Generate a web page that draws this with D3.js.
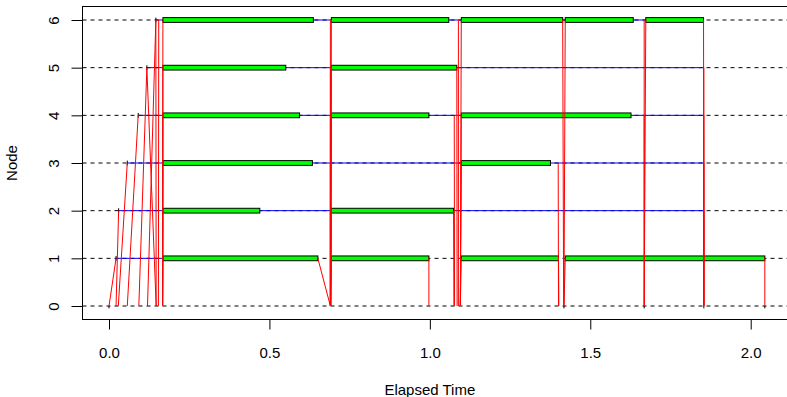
<!DOCTYPE html>
<html>
<head>
<meta charset="utf-8">
<script src="https://cdn.jsdelivr.net/npm/d3@7"></script>
<style>
  html, body { margin: 0; padding: 0; background: #fff; }
  svg { display: block; font-family: "Liberation Sans", Arial, sans-serif; }
</style>
</head>
<body>
<div id="chart"></div>
<script>
// Axis ticks
const xTicks = [0, 0.5, 1, 1.5, 2];
const nodeTicks = [0, 1, 2, 3, 4, 5, 6];

// Idle (blue) span per worker node: start of first receive, end of idle line
const blueStart = [0.022, 0.030, 0.057, 0.091, 0.118, 0.146];
const blueEnd = [0.168, 1.854, 1.854, 1.854, 1.854, 1.854];

// Execution intervals per node [start, end] (green bars)
const execNode1 = [[0.168, 0.651], [0.693, 0.997], [1.098, 1.401], [1.422, 2.044]];
const execNode2 = [[0.168, 0.470], [0.693, 1.074]];
const execNode3 = [[0.168, 0.634], [1.098, 1.376]];
const execNode4 = [[0.168, 0.594], [0.693, 0.997], [1.098, 1.627]];
const execNode5 = [[0.168, 0.551], [0.693, 1.084]];
const execNode6 = [[0.168, 0.637], [0.693, 1.059], [1.098, 1.414], [1.422, 1.634], [1.673, 1.853]];

// Communication segments [t0, node0, t1, node1] (red)
const commSegs = [
    [0.000, 0, 0.022, 1], [0.022, 0, 0.030, 2], [0.029, 0, 0.057, 3],
    [0.057, 0, 0.091, 4], [0.093, 0, 0.118, 5], [0.120, 0, 0.146, 6],
    [0.146, 6, 0.147, 0], [0.118, 5, 0.147, 0], [0.154, 0, 0.155, 6],
    [0.167, 0, 0.168, 1], [0.167, 0, 0.168, 2], [0.167, 0, 0.168, 3],
    [0.167, 0, 0.168, 4], [0.167, 0, 0.168, 5], [0.167, 0, 0.168, 6],
    [0.651, 1, 0.690, 0], [0.690, 2, 0.690, 0], [0.690, 3, 0.690, 0],
    [0.690, 4, 0.690, 0], [0.690, 5, 0.690, 0], [0.690, 6, 0.690, 0],
    [0.691, 0, 0.693, 1], [0.691, 0, 0.693, 2], [0.691, 0, 0.693, 4],
    [0.691, 0, 0.693, 5], [0.691, 0, 0.693, 6],
    [0.997, 1, 0.997, 0], [1.074, 2, 1.075, 0], [1.076, 4, 1.077, 0],
    [1.084, 5, 1.085, 0], [1.089, 6, 1.089, 0],
    [1.095, 0, 1.098, 1], [1.095, 0, 1.098, 3], [1.095, 0, 1.098, 4],
    [1.095, 0, 1.098, 6],
    [1.401, 1, 1.402, 0], [1.400, 3, 1.401, 0],
    [1.414, 6, 1.417, 0], [1.418, 0, 1.422, 6], [1.418, 0, 1.422, 1],
    [1.668, 4, 1.668, 0], [1.668, 6, 1.668, 0], [1.668, 0, 1.673, 6],
    [1.853, 6, 1.854, 0], [1.854, 2, 1.854, 0], [1.854, 3, 1.854, 0],
    [1.854, 4, 1.854, 0], [1.854, 5, 1.854, 0],
    [2.044, 1, 2.044, 0]
];

// zero-length task marks on the master
const masterMarks = [0, 1.418, 1.668, 1.854, 2.044];

const width = 787, height = 397;
const box = { left: 82.5, top: 6.5, right: 790, bottom: 319.5 };
const halfBar = 0.05;

const svg = d3.select('#chart').append('svg')
    .attr('width', width)
    .attr('height', height);

const x = d3.scaleLinear().domain([0, 2]).range([109, 750.7]);
const y = d3.scaleLinear().domain([0, 6]).range([306, 20]);

// dashed node lines
svg.append('g').selectAll('line')
    .data(nodeTicks)
    .enter()
    .append('line')
    .attr('x1', box.left).attr('x2', box.right)
    .attr('y1', d => y(d)).attr('y2', d => y(d))
    .attr('stroke', '#000')
    .attr('stroke-dasharray', '4,4');

// idle lines
svg.append('g').selectAll('line')
    .data(blueStart)
    .enter()
    .append('line')
    .attr('x1', d => x(d))
    .attr('x2', (d, i) => x(blueEnd[i]))
    .attr('y1', (d, i) => y(i + 1))
    .attr('y2', (d, i) => y(i + 1))
    .attr('stroke', '#0000ff');

// tiny first tasks (zero width execution)
svg.append('g').selectAll('line')
    .data(blueStart)
    .enter()
    .append('line')
    .attr('x1', d => x(d)).attr('x2', d => x(d))
    .attr('y1', (d, i) => y(i + 1 - halfBar))
    .attr('y2', (d, i) => y(i + 1 + halfBar))
    .attr('stroke', '#000');

// execution bars
const execAll = [execNode1, execNode2, execNode3, execNode4, execNode5, execNode6];
const bars = [];
execAll.forEach((list, i) => list.forEach(e => bars.push({ node: i + 1, s: e[0], e: e[1] })));

svg.append('g').selectAll('rect')
    .data(bars)
    .enter()
    .append('rect')
    .attr('x', d => x(d.s))
    .attr('y', d => y(d.node + halfBar))
    .attr('width', d => x(d.e) - x(d.s))
    .attr('height', d => y(d.node - halfBar) - y(d.node + halfBar))
    .attr('fill', '#00ff00')
    .attr('stroke', '#000');

// communication
svg.append('g').selectAll('line')
    .data(commSegs)
    .enter()
    .append('line')
    .attr('x1', d => x(d[0])).attr('y1', d => y(d[1]))
    .attr('x2', d => x(d[2])).attr('y2', d => y(d[3]))
    .attr('stroke', '#ff0000');

svg.append('g').selectAll('line')
    .data(masterMarks)
    .enter()
    .append('line')
    .attr('x1', d => x(d)).attr('x2', d => x(d))
    .attr('y1', y(0)).attr('y2', y(-halfBar))
    .attr('stroke', '#000');

// box
svg.append('rect')
    .attr('x', box.left).attr('y', box.top)
    .attr('width', box.right - box.left)
    .attr('height', box.bottom - box.top)
    .attr('fill', 'none')
    .attr('stroke', '#000');

// axes
const fontSize = 15;
const xAxis = svg.append('g')
    .attr('transform', `translate(0,${box.bottom})`)
    .call(d3.axisBottom(x).tickValues(xTicks).tickFormat(d3.format('.1f')).tickSize(10).tickSizeOuter(0));
xAxis.select('.domain').remove();
xAxis.append('line').attr('x1', x(0)).attr('x2', x(2)).attr('stroke', '#000');
xAxis.selectAll('text')
    .attr('y', 38).attr('dy', null)
    .attr('font-size', fontSize).attr('font-family', null).attr('fill', '#000');

const yAxis = svg.append('g')
    .attr('transform', `translate(${box.left},0)`)
    .call(d3.axisLeft(y).tickValues(nodeTicks).tickFormat(d3.format('d')).tickSize(11).tickSizeOuter(0));
yAxis.select('.domain').remove();
yAxis.selectAll('text')
    .attr('x', null).attr('dy', null)
    .attr('text-anchor', 'middle')
    .attr('transform', 'translate(-24,0) rotate(-90)')
    .attr('font-size', fontSize).attr('font-family', null).attr('fill', '#000');

// axis titles
svg.append('text')
    .attr('x', x(1)).attr('y', 395)
    .attr('text-anchor', 'middle')
    .attr('font-size', fontSize)
    .text('Elapsed Time');

svg.append('text')
    .attr('transform', `translate(17,${y(3)}) rotate(-90)`)
    .attr('text-anchor', 'middle')
    .attr('font-size', fontSize)
    .text('Node');
</script>
</body>
</html>
